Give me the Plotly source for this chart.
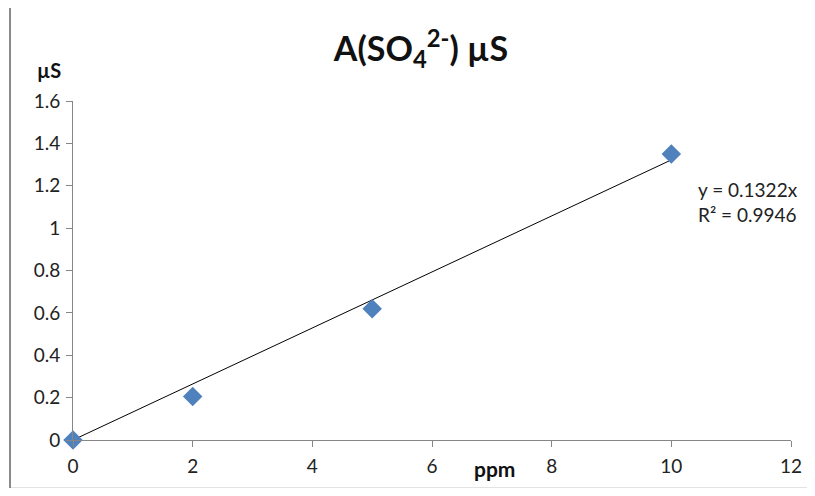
import plotly.graph_objects as go

ppm = [0, 2, 5, 10]
us = [0, 0.205, 0.62, 1.35]
slope = 0.1322
r2 = 0.9946
trend_x = [0, 10]
trend_y = [slope * v for v in trend_x]
x_ticks = [0, 2, 4, 6, 8, 10, 12]
y_ticks = [0, 0.2, 0.4, 0.6, 0.8, 1.0, 1.2, 1.4, 1.6]
y_tick_text = ["0", "0.2", "0.4", "0.6", "0.8", "1", "1.2", "1.4", "1.6"]

FONT = "Lato, Open Sans, sans-serif"
AX = "#868686"
OFF = 8            # page body margin
W, H = 815 - OFF, 496 - 2 * OFF   # keep page from overflowing (no scrollbar)
PW, PH = 718, 339  # plot area size in px

def px(xp):
    return (xp - 73) / PW

def py(yp):
    return (440 - yp) / PH

fig = go.Figure()
fig.add_trace(go.Scatter(x=trend_x, y=trend_y, mode="lines",
                         line=dict(color="black", width=1), showlegend=False,
                         hoverinfo="skip"))
fig.add_trace(go.Scatter(x=ppm, y=us, mode="markers",
                         marker=dict(symbol="diamond", size=15, color="#4F81BD"),
                         cliponaxis=False, showlegend=False))

border = [
    dict(type="line", xref="paper", yref="paper", x0=px(9), x1=px(830),
         y0=py(5.5), y1=py(5.5), line=dict(color="#8a8a8a", width=2), layer="below"),
    dict(type="line", xref="paper", yref="paper", x0=px(10), x1=px(10),
         y0=py(4.5), y1=py(500), line=dict(color="#8a8a8a", width=2), layer="below"),
    dict(type="line", xref="paper", yref="paper", x0=px(11), x1=px(830),
         y0=py(487.5), y1=py(487.5), line=dict(color="#e3e3e3", width=1), layer="below"),
]

fig.update_layout(
    width=W, height=H,
    margin=dict(l=73 - OFF, r=W - (73 - OFF) - PW, t=101 - OFF,
                b=H - (101 - OFF) - PH, autoexpand=False),
    plot_bgcolor="white", paper_bgcolor="white",
    font=dict(family=FONT, size=19, color="#222"),
    title=dict(text="<b>A(SO<sub>4</sub><sup>2-</sup>) µS</b>",
               x=(421 - OFF) / W, xanchor="center",
               y=1 - (49 - OFF) / H, yanchor="middle",
               font=dict(size=34, color="#111", family=FONT)),
    xaxis=dict(range=[0, 12], tickvals=x_ticks, showgrid=False, zeroline=False,
               showline=True, linecolor=AX, linewidth=1, ticks="outside",
               ticklen=6, tickcolor=AX, tickfont=dict(size=19), ticklabelstandoff=3),
    yaxis=dict(range=[0, 1.6], tickvals=y_ticks, ticktext=y_tick_text, showgrid=False,
               zeroline=False, showline=True, linecolor=AX, linewidth=1,
               ticks="outside", ticklen=6, tickcolor=AX, tickfont=dict(size=19),
               ticklabelstandoff=2),
    shapes=border,
    annotations=[
        dict(text="<b>µS</b>", xref="paper", yref="paper",
             x=px(49), y=py(70), showarrow=False,
             xanchor="center", yanchor="middle", font=dict(size=20, color="#111")),
        dict(text="<b>ppm</b>", xref="paper", yref="paper",
             x=px(494), y=py(468), showarrow=False,
             xanchor="center", yanchor="middle", font=dict(size=21, color="#111")),
        dict(text=f"y = {slope}x<br>R² = {r2}", xref="paper", yref="paper",
             x=px(696), y=py(202), showarrow=False,
             xanchor="left", yanchor="middle", align="left",
             font=dict(size=19, color="#222")),
    ],
)

fig.write_html("out.html")
